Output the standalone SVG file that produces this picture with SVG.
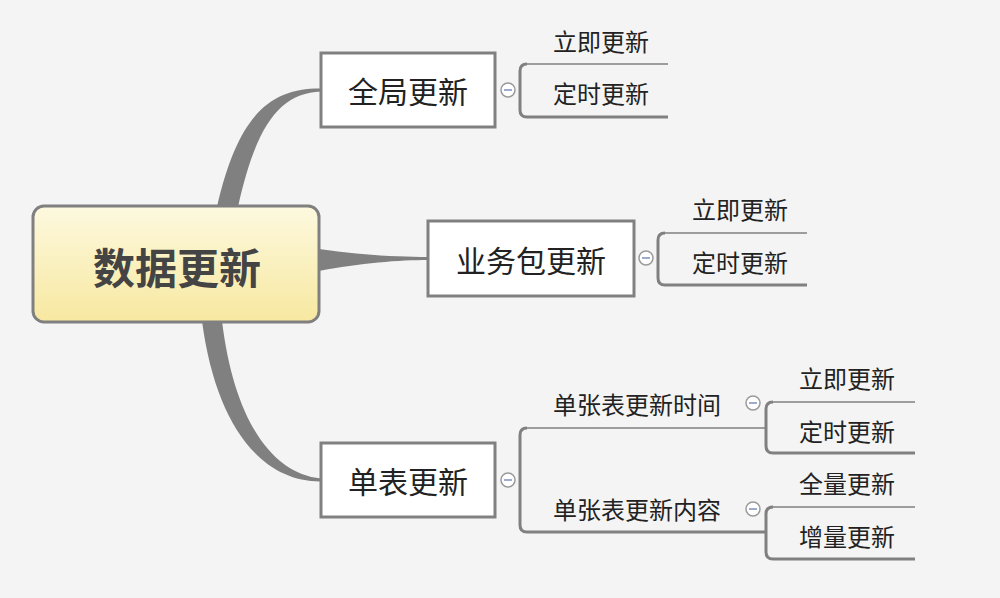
<svg xmlns="http://www.w3.org/2000/svg" width="1000" height="598" viewBox="0 0 1000 598">
<defs>
<linearGradient id="rootg" x1="0" y1="0" x2="0" y2="1">
<stop offset="0" stop-color="#fdf9df"/>
<stop offset="1" stop-color="#f7e8a0"/>
</linearGradient>
<style>
.t{font-family:"Noto Sans CJK SC","Microsoft YaHei",sans-serif;fill:#222;text-anchor:middle;dominant-baseline:central}
.main{font-size:30px}
.sub{font-size:24px}
.box{fill:#fff;stroke:#808080;stroke-width:3}
.br{fill:none;stroke:#808080;stroke-width:3;stroke-linejoin:round}
.thin{fill:none;stroke:#808080;stroke-width:1.5}
.taper{fill:#808080}
.col circle{fill:#fff;stroke:#9a9a9a;stroke-width:1.5}
.col line{stroke:#7f8fb8;stroke-width:1.5}
</style>
</defs>
<rect width="1000" height="598" fill="#f4f4f4"/>
<g id="connectors">
<path class="taper" d="M217,207 C238,115 270,88 321,88.5 L321,91.5 C280,93 256,125 238,207 Z"/>
<path class="taper" d="M319,249 C360,255 400,257 428,257 L428,260 C400,260 360,263 319,271 Z"/>
<path class="taper" d="M202,321 C215,420 258,482 321,481.5 L321,478.5 C272,474 234,420 222,321 Z"/>
<path class="br" d="M527,64 Q520,64 520,71 L520,110 Q520,117 527,117 L668,117"/>
<line class="thin" x1="527" y1="64" x2="668" y2="64"/>
<path class="br" d="M665,233 Q658,233 658,240 L658,278 Q658,285 665,285 L807,285"/>
<line class="thin" x1="665" y1="233" x2="807" y2="233"/>
<path class="br" d="M527,428 Q520,428 520,435 L520,525 Q520,532 527,532 L766,532"/>
<line class="thin" x1="527" y1="428" x2="766" y2="428"/>
<path class="br" d="M773,402 Q766,402 766,409 L766,446 Q766,453 773,453 L915,453"/>
<line class="thin" x1="773" y1="402" x2="915" y2="402"/>
<path class="br" d="M773,507 Q766,507 766,514 L766,552 Q766,559 773,559 L915,559"/>
<line class="thin" x1="773" y1="507" x2="915" y2="507"/>
</g>
<g id="root">
<rect x="33" y="206" width="286" height="116" rx="11" fill="url(#rootg)" stroke="#808080" stroke-width="3"/>
<text class="t" x="177" y="265" style="font-size:42px;font-weight:bold;fill:#444">数据更新</text>
</g>
<g id="n-quanju">
<rect class="box" x="321" y="53" width="174" height="74"/>
<text class="t main" x="408" y="90">全局更新</text>
<g class="col"><circle cx="508" cy="90" r="7"/><line x1="504" y1="90" x2="512" y2="90"/></g>
</g>
<g id="n-quanju-1"><text class="t sub" x="601" y="40">立即更新</text></g>
<g id="n-quanju-2"><text class="t sub" x="601" y="92">定时更新</text></g>
<g id="n-yewu">
<rect class="box" x="428" y="221" width="206" height="75"/>
<text class="t main" x="531" y="259">业务包更新</text>
<g class="col"><circle cx="646" cy="258" r="7"/><line x1="642" y1="258" x2="650" y2="258"/></g>
</g>
<g id="n-yewu-1"><text class="t sub" x="740" y="208">立即更新</text></g>
<g id="n-yewu-2"><text class="t sub" x="740" y="261">定时更新</text></g>
<g id="n-danbiao">
<rect class="box" x="321" y="443" width="174" height="74"/>
<text class="t main" x="408" y="480">单表更新</text>
<g class="col"><circle cx="508" cy="480" r="7"/><line x1="504" y1="480" x2="512" y2="480"/></g>
</g>
<g id="n-time">
<text class="t sub" x="637" y="403">单张表更新时间</text>
<g class="col"><circle cx="753" cy="403" r="7"/><line x1="749" y1="403" x2="757" y2="403"/></g>
</g>
<g id="n-time-1"><text class="t sub" x="847" y="377">立即更新</text></g>
<g id="n-time-2"><text class="t sub" x="847" y="430">定时更新</text></g>
<g id="n-content">
<text class="t sub" x="637" y="508">单张表更新内容</text>
<g class="col"><circle cx="753" cy="509" r="7"/><line x1="749" y1="509" x2="757" y2="509"/></g>
</g>
<g id="n-content-1"><text class="t sub" x="847" y="482">全量更新</text></g>
<g id="n-content-2"><text class="t sub" x="847" y="535">增量更新</text></g>
</svg>
